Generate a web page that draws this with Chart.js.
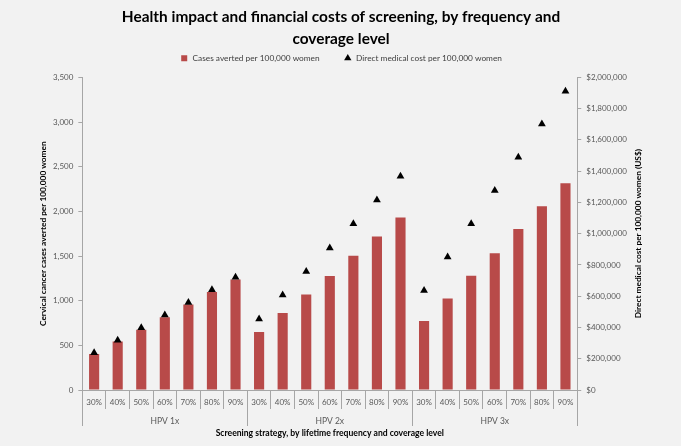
<!DOCTYPE html>
<html>
<head>
<meta charset="utf-8">
<script src="https://cdn.jsdelivr.net/npm/chart.js@4.4.0/dist/chart.umd.min.js"></script>
<style>
  html, body { margin: 0; padding: 0; background: #f2f2f2; }
  #wrap { width: 681px; height: 446px; }
</style>
</head>
<body>
<div id="wrap"><canvas id="screening_chart"></canvas></div>
<script>
const groups = ["HPV 1x", "HPV 2x", "HPV 3x"];
const coverage = ["30%", "40%", "50%", "60%", "70%", "80%", "90%"];
const casesAverted = [403, 544, 675, 813, 958, 1096, 1238,
  649, 861, 1070, 1275, 1503, 1719, 1932,
  772, 1025, 1279, 1532, 1801, 2058, 2315];
const medicalCost = [238000, 319000, 398000, 479000, 560000, 641000, 722000,
  454000, 607000, 758000, 909000, 1063000, 1216000, 1367000,
  637000, 850000, 1063000, 1276000, 1489000, 1702000, 1911000];

const labels = groups.flatMap(() => coverage);
const axisGray = "#a6a6a6";
const tickColor = "#595959";
const fontName = "Lato";
const rightTitle = "Direct medical cost per 100,000 women (US$)";

// right axis title reads bottom-to-top like the left one
const rightTitlePlugin = {
  id: "rightTitle",
  afterDraw: (chart) => {
    const s = chart.scales.y2;
    const ctx = chart.ctx;
    ctx.save();
    ctx.translate(s.right - 6, (s.top + s.bottom) / 2);
    ctx.rotate(-Math.PI / 2);
    ctx.font = `bold 8.3px ${fontName}`;
    ctx.fillStyle = "#000";
    ctx.textAlign = "center";
    ctx.textBaseline = "middle";
    ctx.fillText(rightTitle, 0, 0);
    ctx.restore();
  },
};

new Chart(document.getElementById("screening_chart"), {
  data: {
    labels: labels,
    datasets: [
      {
        type: "bar",
        label: "Cases averted per 100,000 women",
        data: casesAverted,
        backgroundColor: "#b84a49",
        pointStyle: "rect",
        yAxisID: "y",
        xAxisID: "x",
        categoryPercentage: 1,
        barPercentage: 0.43,
        order: 2,
      },
      {
        type: "line",
        label: "Direct medical cost per 100,000 women",
        data: medicalCost,
        showLine: false,
        pointStyle: "triangle",
        pointRadius: 4.5,
        backgroundColor: "#000",
        borderColor: "#000",
        borderWidth: 0,
        yAxisID: "y2",
        xAxisID: "x",
        order: 1,
      },
    ],
  },
  options: {
    responsive: true,
    maintainAspectRatio: false,
    animation: false,
    layout: { padding: { left: 38, right: 37, top: 0, bottom: 6 } },
    plugins: {
      tooltip: { enabled: false },
      title: {
        display: true,
        text: ["Health impact and financial costs of screening, by frequency and", "coverage level"],
        color: "#000",
        font: { family: fontName, size: 15.4, weight: "bold", lineHeight: 1.43 },
        padding: { top: 6, bottom: -20 },
      },
      legend: {
        display: true,
        labels: {
          usePointStyle: true,
          boxHeight: 6,
          padding: 24,
          color: "#404040",
          font: { family: fontName, size: 8.3 },
          sort: (a, b) => a.datasetIndex - b.datasetIndex,
        },
      },
    },
    scales: {
      x: {
        type: "category",
        position: "bottom",
        weight: 0,
        offset: true,
        border: { color: axisGray },
        grid: { offset: true, drawOnChartArea: false, tickLength: 19, color: axisGray },
        ticks: { padding: -11, maxRotation: 0, autoSkip: false, color: tickColor, font: { family: fontName, size: 8 } },
        afterFit: (scale) => { scale.height = 19; },
      },
      xg: {
        type: "category",
        position: "bottom",
        weight: 1,
        labels: groups,
        offset: true,
        border: { display: false },
        grid: { offset: true, drawOnChartArea: false, tickLength: 17, color: axisGray },
        ticks: { padding: -10, maxRotation: 0, color: tickColor, font: { family: fontName, size: 8.5 } },
        title: {
          display: true,
          text: "Screening strategy, by lifetime frequency and coverage level",
          color: "#000",
          font: { family: fontName, size: 8.6, weight: "bold" },
          padding: { top: 2, bottom: 2 },
        },
        afterFit: (scale) => { scale.height = 31; },
      },
      // empty band between legend and plot
      spacer: {
        type: "linear",
        position: "top",
        display: true,
        border: { display: false },
        grid: { display: false, drawTicks: false },
        ticks: { display: false },
        afterFit: (scale) => { scale.height = 5; },
      },
      y: {
        position: "left",
        min: 0,
        max: 3500,
        border: { color: axisGray },
        grid: { drawOnChartArea: false, tickLength: 4, color: axisGray },
        ticks: { stepSize: 500, padding: 5, color: tickColor, font: { family: fontName, size: 8 } },
        title: {
          display: true,
          text: "Cervical cancer cases averted per 100,000 women",
          color: "#000",
          font: { family: fontName, size: 8.3, weight: "bold" },
          padding: { top: 0, bottom: 0 },
        },
      },
      y2: {
        position: "right",
        min: 0,
        max: 2000000,
        border: { color: axisGray },
        grid: { drawOnChartArea: false, tickLength: 4, color: axisGray },
        ticks: {
          stepSize: 200000,
          padding: 5,
          color: tickColor,
          font: { family: fontName, size: 8 },
          callback: (v) => "$" + v.toLocaleString("en-US"),
        },
        afterFit: (scale) => { scale.width += 12; },
      },
    },
  },
  plugins: [rightTitlePlugin],
});
</script>
</body>
</html>
